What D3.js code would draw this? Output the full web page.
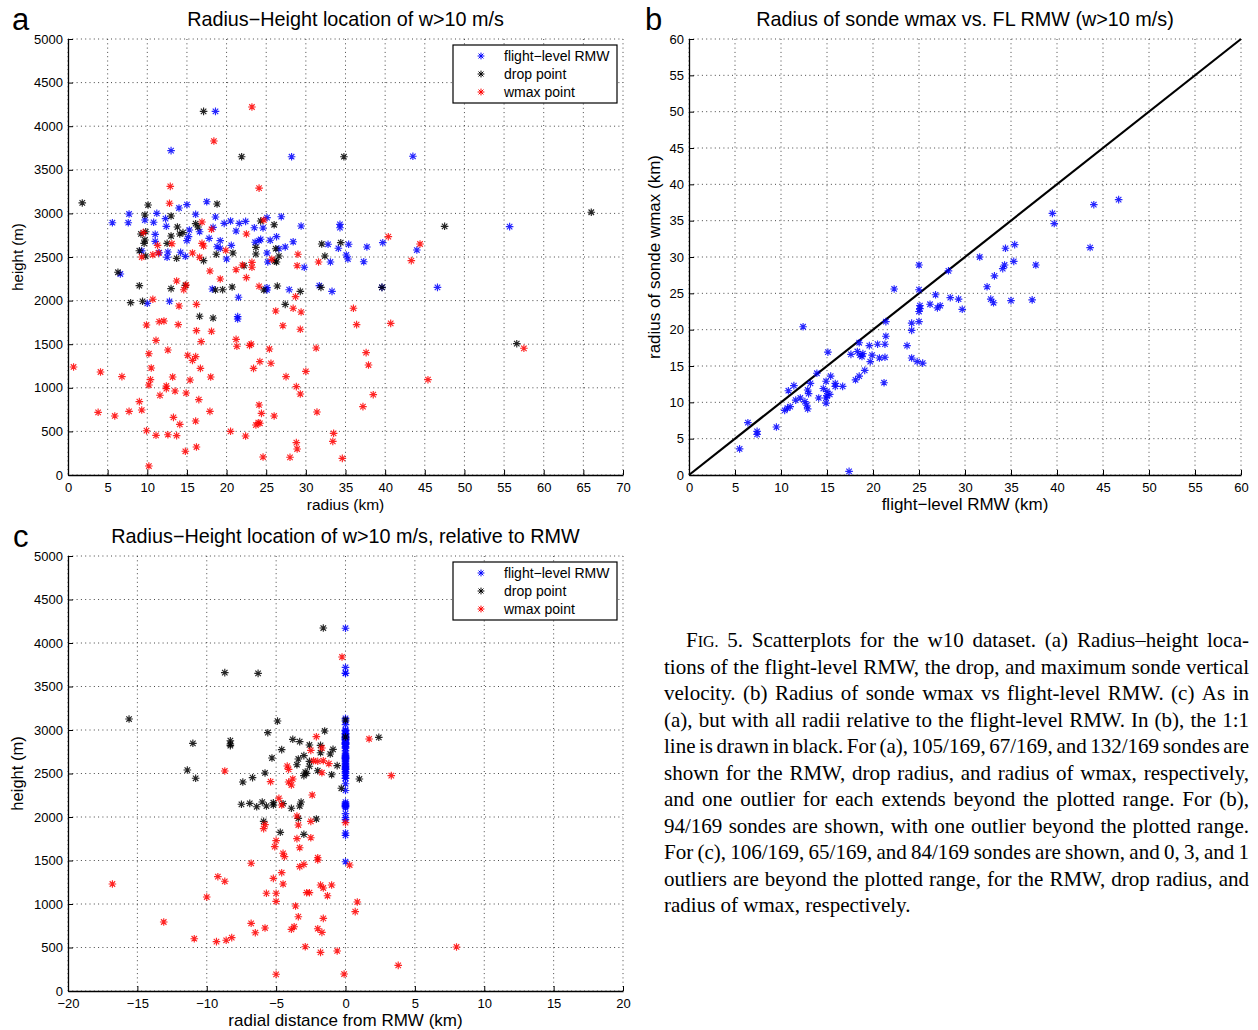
<!DOCTYPE html>
<html><head><meta charset="utf-8">
<script src="https://cdn.jsdelivr.net/npm/d3@7"></script>
<style>
body{margin:0;background:#fff}
svg{display:block}
text{font-family:"Liberation Sans",Arial,Helvetica,sans-serif;fill:#000}
</style>
</head><body>
<svg id="chart" width="1258" height="1030"></svg>
<script>
// ---------- DATA ----------
// Panel a: [radius km, height m]
const aBlue = [[18.6,4170],[13.0,3720],[28.2,3650],[43.5,3655],[17.5,3134],[15.0,3100],[14.0,3062],[7.7,2993],[7.6,2893],[5.6,2893],[11.2,3001],[16.1,2990],[18.6,2959],[9.7,2924],[10.8,2898],[12.3,2940],[19.7,2886],[20.5,2913],[21.6,2886],[22.4,2909],[25.1,2951],[26.9,2962],[23.5,2836],[24.6,2833],[29.4,2855],[34.3,2875],[34.3,2836],[12.4,2852],[18.3,2840],[21.2,2798],[11.0,2760],[15.3,2810],[15.2,2733],[15.0,2687],[16.6,2790],[17.8,2714],[19.2,2687],[18.8,2618],[19.2,2600],[20.6,2634],[11.0,2680],[11.5,2549],[12.6,2557],[9.3,2570],[12.5,2497],[14.2,2554],[14.8,2508],[20.0,2477],[23.6,2669],[24.1,2687],[24.3,2703],[25.5,2692],[26.3,2733],[25.1,2546],[25.2,2443],[26.6,2595],[27.4,2615],[28.4,2675],[29.8,2382],[32.8,2646],[34.1,2600],[35.1,2523],[35.3,2477],[35.4,2646],[33.1,2443],[37.7,2615],[37.3,2446],[39.7,2664],[44.0,2580],[55.7,2848],[6.6,2305],[18.2,2133],[21.5,2038],[25.1,2148],[25.1,2122],[27.9,2125],[31.7,2171],[33.3,2106],[10.0,1969],[12.8,1992],[21.4,1816],[21.4,1789],[39.6,2152],[46.6,2152]];
const aBlack = [[17.1,4170],[21.9,3650],[34.8,3650],[1.8,3120],[10.1,3096],[18.8,3108],[9.7,2982],[13.0,2970],[16.1,2882],[16.4,2844],[24.3,2913],[26.0,2870],[13.8,2844],[9.2,2764],[9.8,2790],[13.0,2741],[14.1,2764],[14.5,2779],[9.7,2695],[9.6,2657],[12.5,2657],[9.0,2572],[9.8,2511],[13.7,2485],[17.1,2458],[18.7,2531],[20.8,2546],[23.7,2611],[23.7,2534],[22.2,2400],[26.2,2595],[26.6,2511],[26.3,2443],[26.1,2454],[32.0,2649],[32.4,2511],[34.4,2664],[66.0,3013],[47.5,2852],[6.3,2325],[14.8,2175],[9.0,2171],[13.0,2137],[18.6,2122],[19.5,2125],[20.7,2156],[26.4,2167],[24.7,2122],[29.3,2106],[31.9,2152],[7.9,1976],[9.4,1992],[27.4,1957],[16.6,1820],[18.3,1800],[56.6,1506],[39.6,2152]];
const aRed = [[23.2,4220],[18.4,3830],[12.9,3310],[24.1,3290],[12.8,3116],[16.9,2901],[24.7,2924],[18.1,2818],[22.5,2764],[9.5,2780],[16.9,2657],[17.1,2626],[13.1,2652],[11.3,2634],[9.3,2500],[10.7,2526],[11.4,2546],[15.7,2546],[16.6,2497],[19.9,2577],[23.2,2439],[23.2,2382],[22.0,2408],[25.7,2474],[29.0,2531],[28.9,2400],[31.6,2443],[40.4,2733],[44.4,2649],[43.3,2458],[17.9,2339],[19.2,2248],[22.5,2263],[21.2,2354],[13.7,2225],[14.9,2179],[14.6,2125],[24.1,2164],[28.7,2045],[10.7,2015],[26.2,1881],[28.4,1912],[29.4,1869],[14.0,1938],[16.2,1957],[9.9,1720],[11.5,1758],[12.1,1766],[13.9,1724],[16.2,1655],[18.1,1648],[27.1,1712],[29.3,1671],[36.0,1912],[36.4,1724],[40.7,1739],[57.5,1453],[21.2,1556],[21.3,1476],[22.9,1487],[23.1,1502],[25.4,1445],[16.8,1529],[11.1,1544],[12.6,1433],[31.3,1456],[10.2,1391],[15.1,1373],[15.7,1315],[16.1,1357],[37.6,1403],[37.9,1261],[0.7,1239],[4.1,1181],[10.5,1227],[16.7,1223],[24.2,1300],[23.4,1223],[25.6,1281],[30.0,1189],[6.8,1128],[10.4,1093],[13.2,1124],[15.4,1089],[18.0,1124],[27.5,1128],[45.4,1093],[10.2,1032],[12.4,1021],[12.4,990],[13.5,963],[11.6,914],[14.9,940],[16.5,864],[28.8,1013],[29.3,929],[38.5,921],[37.2,784],[9.0,841],[3.8,719],[5.9,677],[7.7,730],[9.3,745],[13.3,661],[14.1,581],[16.1,619],[17.9,730],[24.1,803],[24.4,707],[26.0,677],[31.4,722],[24.0,600],[24.2,593],[23.7,573],[9.9,508],[11.1,455],[12.6,462],[13.7,451],[20.5,501],[22.4,447],[14.8,272],[16.2,321],[24.6,206],[28.0,203],[28.8,371],[28.9,298],[33.5,478],[33.4,386],[34.6,191],[10.2,103]];

// Panel b: [flight-level RMW km, radius of sonde wmax km]
const bPoints = [[5.5,3.6],[6.4,7.2],[7.4,6.0],[7.4,5.6],[9.5,6.6],[10.4,8.9],[10.7,9.2],[11.0,9.4],[10.8,11.6],[11.4,12.3],[11.6,10.3],[12.1,10.6],[12.6,10.1],[12.8,9.6],[12.9,9.1],[12.4,20.4],[12.9,11.7],[13.0,11.2],[13.2,12.6],[13.9,14.0],[14.1,10.6],[14.6,11.9],[14.9,12.9],[15.0,11.5],[14.9,10.6],[14.9,9.9],[15.0,10.9],[15.3,11.1],[15.1,16.9],[15.4,13.6],[15.9,12.6],[15.9,12.2],[16.7,12.2],[17.4,0.5],[17.6,16.6],[18.1,13.1],[18.5,13.6],[19.1,14.4],[18.3,17.0],[18.6,16.5],[18.9,16.7],[18.8,16.3],[18.5,18.2],[19.6,17.8],[19.7,15.6],[19.9,16.5],[20.5,18.0],[20.7,16.1],[21.3,18.0],[21.3,16.2],[21.2,12.7],[21.4,19.1],[21.4,21.1],[22.3,25.6],[23.7,17.8],[24.2,16.1],[24.8,15.6],[25.4,15.4],[24.2,20.9],[24.2,19.9],[25.0,21.1],[25.0,28.9],[25.0,25.5],[25.1,23.3],[25.1,22.9],[25.0,22.5],[26.2,23.5],[26.8,24.8],[27.0,23.0],[27.3,23.3],[28.2,28.1],[28.4,24.4],[29.3,24.2],[29.7,22.8],[31.6,30.0],[32.4,25.9],[32.8,24.2],[33.1,23.7],[33.2,27.4],[34.1,28.4],[34.3,28.9],[34.4,31.2],[35.4,31.7],[35.3,29.4],[35.0,24.0],[37.3,24.1],[37.7,28.9],[39.5,36.0],[39.7,34.6],[43.6,31.3],[44.0,37.2],[46.7,37.9]];
const bLine = [[0,0],[60,60]];

// Panel c: [radial distance from RMW km, height m]
const cBlueHeights = [4170,3720,3655,3650,3134,3100,3062,3001,2993,2990,2962,2959,2951,2940,2924,2913,2909,2898,2893,2886,2875,2855,2852,2848,2840,2836,2833,2810,2798,2790,2760,2733,2714,2703,2692,2687,2680,2675,2669,2664,2646,2634,2615,2600,2595,2580,2570,2557,2549,2546,2523,2508,2497,2477,2446,2443,2382,2305,2171,2152,2148,2133,2125,2122,2106,2038,1992,1969,1816,1789,1486];
const cBlack = [[-1.6,4172],[-8.7,3659],[-6.3,3651],[-15.6,3126],[-4.9,3103],[-1.5,2989],[-5.6,2969],[-3.8,2893],[-3.3,2866],[-11.0,2847],[-8.3,2877],[-8.3,2839],[-8.3,2820],[-2.6,2828],[-1.8,2824],[-4.6,2774],[-0.9,2778],[-1.1,2724],[-1.8,2739],[-3.0,2705],[-3.4,2667],[-3.5,2601],[-2.6,2640],[-2.6,2583],[-0.6,2590],[-5.3,2678],[-2.0,2532],[-2.9,2517],[-2.8,2502],[-3.0,2475],[-1.0,2486],[-11.4,2540],[-10.8,2445],[-5.8,2506],[-6.7,2452],[-7.4,2402],[1.0,2437],[-0.3,2330],[2.4,2916],[-7.5,2146],[-6.9,2157],[-6.4,2118],[-6.0,2172],[-5.7,2126],[-5.2,2164],[-5.2,2138],[-4.5,2153],[-3.9,2100],[-3.2,2172],[-3.3,2126],[-3.4,1985],[-2.1,1977],[-5.9,1950],[-4.7,1824],[-3.0,1801],[0,3115],[0,2920]];
const cRed = [[-0.25,3839],[-2.1,2923],[-1.7,2793],[-2.5,2766],[-2.3,2647],[-2.0,2640],[-1.6,2647],[-1.2,2613],[-4.2,2586],[-4.1,2548],[-1.7,2509],[-8.7,2529],[-5.4,2406],[-4.1,2402],[-3.9,2368],[-3.8,2437],[1.7,2897],[3.3,2475],[-2.4,2253],[-4.8,2215],[-4.6,2138],[-3.5,2011],[-2.5,1950],[-5.8,1912],[-5.9,1866],[-3.4,1908],[-3.5,1751],[-2.5,1762],[-5.0,1728],[-5.1,1659],[-3.3,1647],[0,1935],[0.3,1448],[-4.5,1583],[-4.4,1544],[-6.8,1468],[-2.0,1532],[-2.0,1506],[-3.3,1429],[-3.0,1456],[-4.6,1360],[-5.2,1295],[-4.5,1230],[-16.8,1230],[-9.2,1314],[-8.7,1261],[-1.8,1218],[-1.6,1184],[-1.0,1218],[-1.3,1095],[-5.7,1123],[-5.0,1123],[-2.8,1130],[-2.6,1130],[-5.0,1031],[-10.0,1080],[0.85,1023],[0.7,912],[-3.6,977],[-3.4,854],[-1.6,835],[-13.1,793],[-6.8,778],[-5.8,724],[-6.5,670],[-3.9,709],[-3.7,739],[-2.0,716],[-1.7,674],[-10.9,601],[-9.3,567],[-8.6,583],[-8.2,613],[-2.9,509],[-1.8,444],[-0.6,460],[3.8,295],[-5.0,192],[-0.1,195],[8.0,506]];

const heightTicks = [0,500,1000,1500,2000,2500,3000,3500,4000,4500,5000];
const radiusTicks = [0,5,10,15,20,25,30,35,40,45,50,55,60,65,70];
const rmwTicks = [0,5,10,15,20,25,30,35,40,45,50,55,60];
const relTicks = [-20,-15,-10,-5,0,5,10,15,20];
const legendLabels = ["flight\u2212level RMW","drop point","wmax point"];
const seriesColors = ["#0000ff","#000000","#ff0000"];

const captionLines = [
 "F|IG.| 5. Scatterplots for the w10 dataset. (a) Radius–height loca-",
 "tions of the flight-level RMW, the drop, and maximum sonde vertical",
 "velocity. (b) Radius of sonde wmax vs flight-level RMW. (c) As in",
 "(a), but with all radii relative to the flight-level RMW. In (b), the 1:1",
 "line is drawn in black. For (a), 105/169, 67/169, and 132/169 sondes are",
 "shown for the RMW, drop radius, and radius of wmax, respectively,",
 "and one outlier for each extends beyond the plotted range. For (b),",
 "94/169 sondes are shown, with one outlier beyond the plotted range.",
 "For (c), 106/169, 65/169, and 84/169 sondes are shown, and 0, 3, and 1",
 "outliers are beyond the plotted range, for the RMW, drop radius, and",
 "radius of wmax, respectively."
];

// ---------- DRAWING ----------
const svg = d3.select("#chart");
const fmt = d => (d < 0 ? "\u2212" + Math.abs(d) : String(d));

function star(r){
  const d = r*0.72;
  return `M${-r},0L${r},0M0,${-r}L0,${r}M${-d},${-d}L${d},${d}M${-d},${d}L${d},${-d}`;
}

function panel(o){
  const g = svg.append("g");
  const x = d3.scaleLinear().domain(o.xDomain).range([o.left,o.right]);
  const y = d3.scaleLinear().domain(o.yDomain).range([o.bottom,o.top]);
  // grid
  g.append("g").selectAll("line").data(o.xTicks).join("line")
    .attr("x1",d=>x(d)).attr("x2",d=>x(d)).attr("y1",o.top).attr("y2",o.bottom)
    .attr("stroke","#333").attr("stroke-width",0.9).attr("stroke-dasharray","1,3.3");
  g.append("g").selectAll("line").data(o.yTicks).join("line")
    .attr("y1",d=>y(d)).attr("y2",d=>y(d)).attr("x1",o.left).attr("x2",o.right)
    .attr("stroke","#333").attr("stroke-width",0.9).attr("stroke-dasharray","1,3.3");
  // axes
  const ax = g.append("g").attr("transform",`translate(0,${o.bottom})`)
    .call(d3.axisBottom(x).tickValues(o.xTicks).tickFormat(fmt).tickSizeInner(-5).tickSizeOuter(0).tickPadding(8));
  const ay = g.append("g").attr("transform",`translate(${o.left},0)`)
    .call(d3.axisLeft(y).tickValues(o.yTicks).tickFormat(fmt).tickSizeInner(-5).tickSizeOuter(0).tickPadding(5));
  [ax,ay].forEach(a=>{
    a.selectAll("text").attr("font-size",13).attr("font-family",'"Liberation Sans",Arial,sans-serif').attr("fill","#000");
    a.select(".domain").attr("stroke","#000").attr("stroke-width",1.3);
    a.selectAll(".tick line").attr("stroke","#000").attr("stroke-width",1);
  });
  // extra line
  if(o.line){
    g.append("path").datum(o.line)
      .attr("d",d3.line().x(d=>x(d[0])).y(d=>y(d[1])))
      .attr("stroke","#000").attr("stroke-width",2.2).attr("fill","none");
  }
  // series
  o.series.forEach(s=>{
    g.append("g").selectAll("path").data(s.data).join("path")
      .attr("transform",d=>`translate(${x(d[0])},${y(d[1])})`)
      .attr("d",star(3.8)).attr("stroke",s.color).attr("stroke-width",1.15)
      .attr("fill","none").attr("stroke-opacity",0.85);
  });
  // titles and labels
  g.append("text").attr("x",(o.left+o.right)/2).attr("y",o.top-13)
    .attr("text-anchor","middle").attr("font-size",19.8).text(o.title);
  g.append("text").attr("x",o.letterX).attr("y",o.top-9)
    .attr("font-size",31).text(o.letter);
  g.append("text").attr("x",(o.left+o.right)/2).attr("y",o.bottom+35)
    .attr("text-anchor","middle").attr("font-size",o.xLabelSize).text(o.xLabel);
  g.append("text").attr("transform",`translate(${o.yLabelX},${(o.top+o.bottom)/2}) rotate(-90)`)
    .attr("text-anchor","middle").attr("font-size",o.yLabelSize).text(o.yLabel);
  // legend
  if(o.legend){
    const lg = g.append("g").attr("transform",`translate(453,${o.top+6})`);
    lg.append("rect").attr("width",164).attr("height",58)
      .attr("fill","#fff").attr("stroke","#000").attr("stroke-width",1.2);
    legendLabels.forEach((lab,i)=>{
      lg.append("path").attr("transform",`translate(28,${11+i*18})`)
        .attr("d",star(3.4)).attr("stroke",seriesColors[i]).attr("stroke-width",1).attr("fill","none");
      lg.append("text").attr("x",51).attr("y",16+i*18).attr("font-size",14).text(lab);
    });
  }
}

panel({left:68,right:623,top:39,bottom:475,xDomain:[0,70],yDomain:[0,5000],
  xTicks:radiusTicks,yTicks:heightTicks,
  title:"Radius\u2212Height location of w>10 m/s",letter:"a",letterX:12,
  xLabel:"radius (km)",yLabel:"height (m)",yLabelX:23,xLabelSize:15.5,yLabelSize:15,legend:true,
  series:[{data:aBlue,color:seriesColors[0]},{data:aBlack,color:seriesColors[1]},{data:aRed,color:seriesColors[2]}]});

panel({left:689,right:1241,top:39,bottom:475,xDomain:[0,60],yDomain:[0,60],
  xTicks:rmwTicks,yTicks:rmwTicks,
  title:"Radius of sonde wmax vs. FL RMW (w>10 m/s)",letter:"b",letterX:645,
  xLabel:"flight\u2212level RMW (km)",yLabel:"radius of sonde wmax (km)",yLabelX:660,xLabelSize:17,yLabelSize:17,legend:false,
  line:bLine,
  series:[{data:bPoints,color:seriesColors[0]}]});

panel({left:68,right:623,top:556,bottom:991,xDomain:[-20,20],yDomain:[0,5000],
  xTicks:relTicks,yTicks:heightTicks,
  title:"Radius\u2212Height location of w>10 m/s, relative to RMW",letter:"c",letterX:13,
  xLabel:"radial distance from RMW (km)",yLabel:"height (m)",yLabelX:23,xLabelSize:17,yLabelSize:16.5,legend:true,
  series:[{data:cBlueHeights.map(h=>[0,h]),color:seriesColors[0]},{data:cBlack,color:seriesColors[1]},{data:cRed,color:seriesColors[2]}]});

// caption, justified
const cap = svg.append("g");
const capLeft = 664, capRight = 1249, capFont = 21, capTop = 647, capStep = 26.5;
captionLines.forEach((line,i)=>{
  const x0 = i===0 ? 686 : capLeft;
  const yy = capTop + i*capStep;
  const lg = cap.append("g");
  const words = line.split(" ");
  const nodes = words.map(w=>{
    const t = lg.append("text").attr("y",yy).attr("font-size",capFont)
      .style("font-family",'"Liberation Serif","Times New Roman",serif');
    if(w.indexOf("|")>=0){
      const parts = w.split("|");
      t.append("tspan").text(parts[0]);
      t.append("tspan").attr("font-size",capFont*0.76).text(parts[1]);
      t.append("tspan").text(parts[2]);
    } else t.text(w);
    return t;
  });
  const widths = nodes.map(t=>t.node().getComputedTextLength());
  const total = d3.sum(widths);
  const last = i===captionLines.length-1;
  let gap = last ? capFont*0.25 : (capRight - x0 - total)/(words.length-1);
  let scale = 1;
  if(gap < 3){ gap = 3; scale = (capRight-x0)/(total+gap*(words.length-1)); }
  let cx = 0;
  nodes.forEach((t,k)=>{ t.attr("x",cx); cx += widths[k]+gap; });
  lg.attr("transform",`translate(${x0},0) scale(${scale},1)`);
});
</script>
</body></html>
